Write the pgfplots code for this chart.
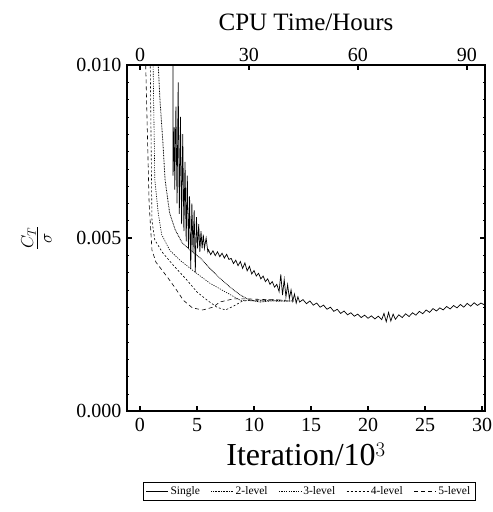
\documentclass[border=0pt]{standalone}
\usepackage{pgfplots}
\pgfplotsset{compat=1.18}
\usepackage{fontspec}
\setmainfont{Liberation Serif}
\begin{document}
\begin{tikzpicture}
\useasboundingbox (0pt,0pt) rectangle (493pt,512pt);
\begin{axis}[
  at={(127pt,101pt)}, anchor=south west,
  width=358pt, height=346pt, scale only axis,
  xmin=-1.14, xmax=30.26, ymin=0, ymax=0.010,
  xtick={0,5,10,15,20,25,30},
  ytick={0,0.005,0.010},
  minor y tick num=9,
  xtick pos=bottom,
  ytick pos=both,
  scaled y ticks=false,
  yticklabel style={/pgf/number format/fixed,/pgf/number format/fixed zerofill,/pgf/number format/precision=3, xshift=-2pt},
  xticklabel style={yshift=-4pt},
  /pgf/number format/assume math mode=true,
  ticklabel style={font=\fontsize{20}{22}\selectfont},
  major tick length=5pt, minor tick length=2pt,
  tick style={line width=1.2pt,black},
  minor tick style={line width=0.4pt},
  axis line style={line width=1.8pt},
  xlabel={Iteration/10$^3$},
  xlabel style={font=\fontsize{32}{35}\selectfont, yshift=-4pt},
  ylabel={$\frac{C_T}{\sigma}$},
  ylabel style={font=\fontsize{25}{28}\selectfont, yshift=18pt},
  legend columns=5,
  legend style={at={(0.045,-0.205)}, anchor=north west, font=\fontsize{11.5}{13}\selectfont, draw=black, line width=0.5pt, inner sep=2.5pt,
    /tikz/every odd column/.append style={column sep=0pt},
    /tikz/every even column/.append style={column sep=9pt}},
  legend image code/.code={\draw[#1] (0pt,0pt) -- (22pt,0pt);},
  clip=true,
]
\addplot[black, line width=0.7pt] coordinates {
(2.9,0.0115) (2.9,0.0068) (3.0,0.0082) (3.05,0.0064) (3.15,0.0088) (3.25,0.0060) (3.35,0.0095) (3.45,0.0057) (3.55,0.0085) (3.65,0.0054) (3.75,0.0080) (3.85,0.0052) (3.95,0.0072) (4.05,0.0049) (4.15,0.0068) (4.25,0.0047) (4.35,0.0062) (4.45,0.0041) (4.55,0.0060) (4.65,0.0046) (4.75,0.0058) (4.85,0.0040) (4.95,0.0056) (5.05,0.0047) (5.15,0.0054) (5.25,0.0046) (5.35,0.0052) (5.45,0.0047) (5.55,0.0051) (5.65,0.0047) (5.8,0.0050) (5.95,0.0046)
(6.0,0.00466) (6.2,0.00452) (6.4,0.00463) (6.6,0.00449) (6.8,0.00460) (7.0,0.00446) (7.2,0.00456) (7.4,0.00442) (7.6,0.00453) (7.8,0.00438) (8.0,0.00441) (8.2,0.00426) (8.4,0.00436) (8.6,0.00420) (8.8,0.00432) (9.0,0.00412) (9.2,0.00428) (9.4,0.00405) (9.6,0.00418) (9.8,0.00396) (10.0,0.00406) (10.2,0.00390) (10.4,0.00398) (10.6,0.00382) (10.8,0.00390) (11.0,0.00374) (11.2,0.00382) (11.4,0.00366) (11.6,0.00374) (11.8,0.00358) (12.0,0.00366) (12.2,0.00345) (12.35,0.00395) (12.5,0.00335) (12.65,0.00380) (12.8,0.00330) (12.95,0.00365) (13.1,0.00325) (13.25,0.00350) (13.4,0.00318) (13.55,0.00338) (13.7,0.00312) (13.85,0.00330) (14.0,0.00315)
(14.3,0.00322) (14.6,0.00310) (14.9,0.00318) (15.2,0.00306) (15.5,0.00312) (15.8,0.00300) (16.1,0.00306) (16.4,0.00294) (16.7,0.00300) (17.0,0.00288) (17.3,0.00294) (17.6,0.00282) (17.9,0.00289) (18.2,0.00278) (18.5,0.00284) (18.8,0.00274) (19.1,0.00280) (19.4,0.00270) (19.7,0.00277) (20.0,0.00268) (20.3,0.00275) (20.6,0.00266) (20.9,0.00274) (21.2,0.00264) (21.4,0.00282) (21.6,0.00258) (21.8,0.00285) (22.0,0.00260) (22.2,0.00280) (22.4,0.00265) (22.7,0.00278) (23.0,0.00270) (23.3,0.00281) (23.6,0.00273) (23.9,0.00284) (24.2,0.00277) (24.5,0.00288) (24.8,0.00281) (25.1,0.00292) (25.4,0.00285) (25.7,0.00296) (26.0,0.00289) (26.3,0.00298) (26.6,0.00292) (26.9,0.00302) (27.2,0.00295) (27.5,0.00305) (27.8,0.00298) (28.1,0.00308) (28.4,0.00300) (28.7,0.00311) (29.0,0.00303) (29.3,0.00313) (29.6,0.00305) (29.9,0.00312) (30.2,0.00307)
};
\addlegendentry{Single}
\addplot[black, line width=0.8pt, dash pattern=on 0.8pt off 0.8pt] coordinates {
(1.55,0.0110) (1.6,0.0100) (1.75,0.0090) (2.0,0.0078) (2.2,0.00668) (2.6,0.00572) (3.1,0.00523) (3.7,0.00486) (4.4,0.00465) (5.3,0.00442) (6.1,0.00413) (7.0,0.00384) (7.9,0.00358) (8.8,0.00335) (9.6,0.00321) (10.5,0.00315) (11.5,0.00318) (12.5,0.00317) (13.5,0.00318)
};
\addlegendentry{2-level}
\addplot[black, line width=0.6pt, dash pattern=on 1.2pt off 1.2pt] coordinates {
(1.1,0.0110) (1.15,0.0100) (1.3,0.00668) (1.6,0.00572) (1.9,0.0051) (2.6,0.00465) (3.5,0.00436) (4.8,0.00402) (6.1,0.0037) (7.5,0.00344) (8.8,0.0032) (10.1,0.00318) (11.5,0.0032) (12.5,0.00319) (13.5,0.00318)
};
\addlegendentry{3-level}
\addplot[black, line width=0.6pt, dash pattern=on 2pt off 2pt] coordinates {
(0.85,0.0110) (0.9,0.0100) (1.05,0.0055) (1.3,0.00494) (2.0,0.00457) (2.9,0.00422) (4.1,0.00379) (5.0,0.00344) (5.9,0.0032) (6.75,0.0030) (7.5,0.00292) (8.2,0.00303) (9.0,0.00318) (10.1,0.0032) (11.5,0.00321) (13.0,0.0032)
};
\addlegendentry{4-level}
\addplot[black, line width=0.6pt, dash pattern=on 4pt off 3pt] coordinates {
(0.45,0.0110) (0.5,0.0100) (0.8,0.0060) (1.05,0.00465) (1.4,0.0043) (2.4,0.00387) (3.1,0.00355) (3.8,0.0032) (4.6,0.00298) (5.5,0.00292) (6.4,0.0030) (7.0,0.00315) (8.2,0.00324) (9.4,0.00324) (11.0,0.00322) (12.5,0.00321)
};
\addlegendentry{5-level}
\end{axis}
\begin{axis}[
  at={(127pt,101pt)}, anchor=south west,
  width=358pt, height=346pt, scale only axis,
  xmin=-3.58, xmax=94.96, ymin=0, ymax=1,
  axis x line*=top, axis y line=none,
  xtick={0,30,60,90},
  /pgf/number format/assume math mode=true,
  ticklabel style={font=\fontsize{20}{22}\selectfont},
  major tick length=5pt,
  tick style={line width=1.2pt,black},
  axis line style={line width=1.8pt},
  xlabel={CPU Time/Hours},
  xlabel style={font=\fontsize{25}{28}\selectfont, yshift=10pt},
]
\addplot[draw=none] coordinates {(0,0)};
\end{axis}
\end{tikzpicture}
\end{document}
